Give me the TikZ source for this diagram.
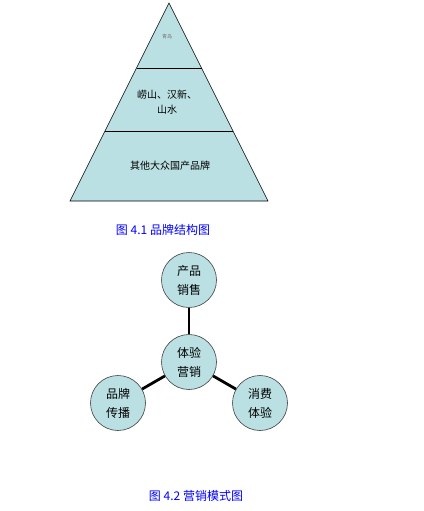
\documentclass[tikz,border=0pt]{standalone}
\usepackage{fontspec}
\setmainfont{Liberation Sans}
\newfontfamily\cjk{Noto Sans CJK SC}
\definecolor{paleteal}{HTML}{BBE0E3}
\definecolor{capblue}{HTML}{0000FF}

\begin{document}
\begin{tikzpicture}[
  x=1pt,y=-1pt,
  semithick,
  ,
  lvl/.style={font=\cjk\fontsize{10}{15}\selectfont,align=center},
  figcap/.style={font=\cjk\fontsize{12}{14}\selectfont,text=capblue},
  ball/.style={circle,draw=black!75,fill=paleteal,minimum size=55pt,inner sep=0pt,
    font=\cjk\fontsize{12}{19}\selectfont,align=center},
  spoke/.style={line width=2.8pt}
]
  \useasboundingbox (0,0) rectangle (423,511);
  % pyramid
  \draw[fill=paleteal] (169,3) -- (268,201) -- (70,201) -- cycle;
  \draw (136.5,68) -- (201.5,68);
  \draw (105,131) -- (233,131);
  \node[lvl,font=\cjk\fontsize{5}{6}\selectfont,text=black!55](top) at (167,37){青岛};
  \node[lvl](mid) at (167,102){崂山、汉新、\\山水};
  \node[lvl](base) at (170,166){其他大众国产品牌};
  \node[figcap](cap1) at (163,230){图\ 4.1\ 品牌结构图};
  % circles
  \node[ball](core) at (189,362){体验\\营销};
  \node[ball](sell) at (189,280){产品\\销售};
  \node[ball](brand) at (118,403){品牌\\传播};
  \node[ball](use) at (260,403){消费\\体验};
  \draw[spoke] (core) -- (sell);
  \draw[spoke] (core) -- (brand);
  \draw[spoke] (core) -- (use);
  \node[figcap](cap2) at (196,496){图\ 4.2\ 营销模式图};
\end{tikzpicture}
\end{document}
